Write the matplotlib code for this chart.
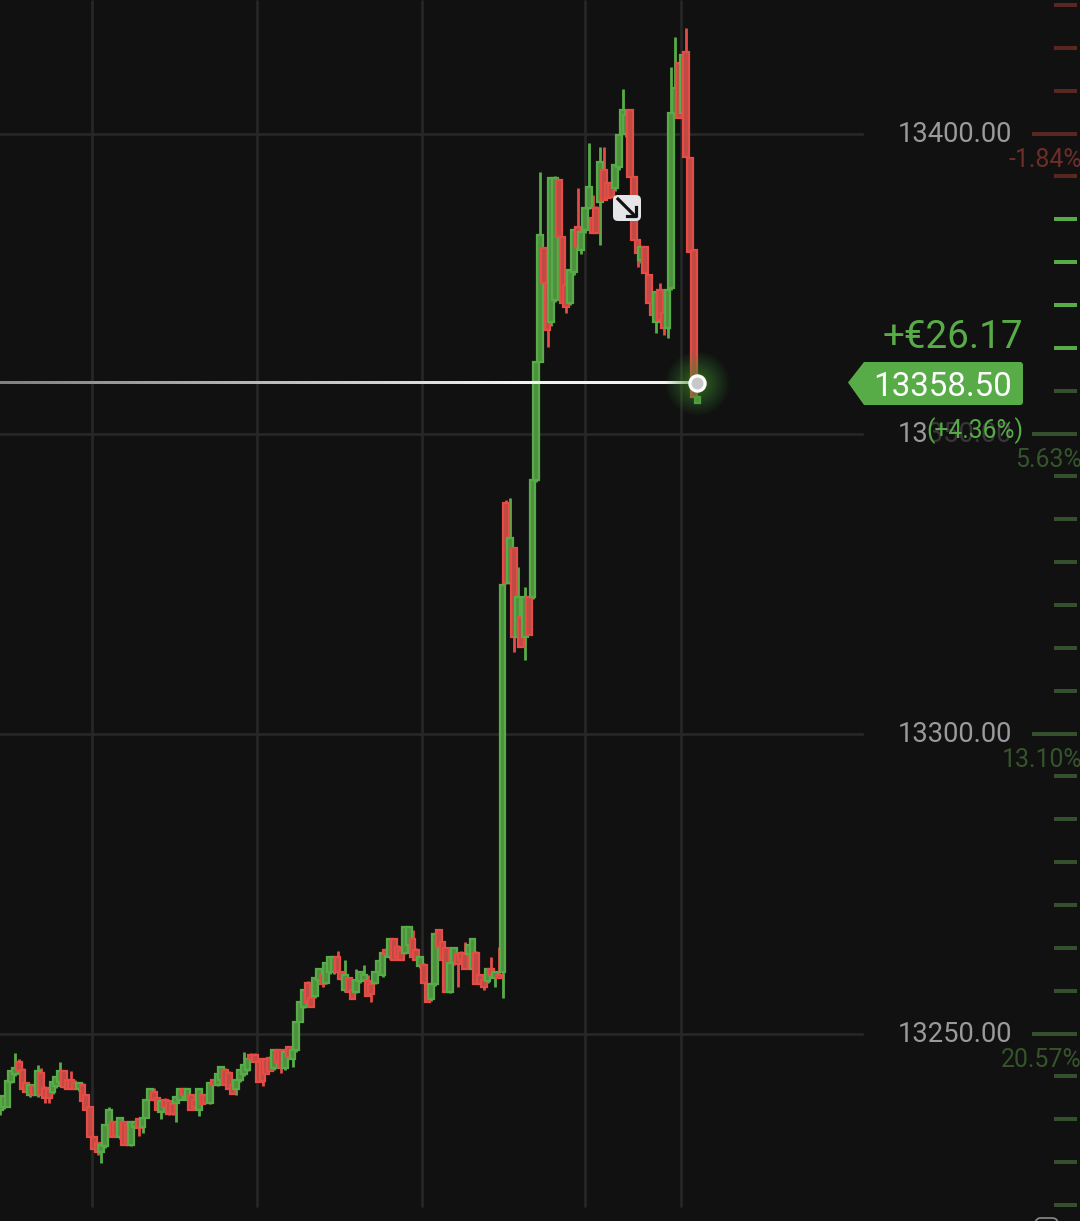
import numpy as np
import matplotlib
matplotlib.use("Agg")
import matplotlib.pyplot as plt
from matplotlib.patches import FancyBboxPatch, Polygon, Rectangle

BASE = 13200
# candle values, as price minus BASE, one row per ten candles
opens = [37.3,37.7,37.7,42,43.2,45.2,44,41.8,39.8,41.2,
 39.8,43.5,41,40.7,40.3,41.2,42,43.7,42.3,42.3,
 41.8,40.7,41.5,39.8,37.7,32.8,31.8,30.3,31.3,34.8,
 35.3,35.3,32.8,35.3,34.8,31.5,34.5,35.7,34.5,36,
 39,40.3,39.3,37,39,38.7,38.2,38.5,39,40.7,
 39,39.8,39,37.3,39.8,39.8,38.5,42.3,41.5,42.3,
 44,43.5,41.5,40.7,42.3,43.2,44,46.5,46.5,45.3,
 45.7,45.7,46,44.3,47.3,47.3,44.3,47.7,45.7,47.3,
 52,54.5,58.5,56,56.2,59,59.8,58.5,60.3,60.3,
 62.8,60.2,57.3,59.3,57.3,57,58.7,59,58.7,58.2,
 58.5,60.2,59.8,64,62.8,65.7,64.5,64,63.5,64.8,
 65.7,64,61.2,61.5,58.2,55.7,58.2,67.3,65.3,64.3,
 57,61.8,63.2,63.5,63.2,63.2,60.7,63.5,59.8,59,
 58.7,60.7,59.3,59.8,60.3,138.4,125.1,130.9,116.1,119.4,
 116.1,122.75,122.75,142.25,161.9,180.9,175.1,168.6,172.25,192.25,
 182.75,174.75,171.75,176.9,184.4,180.6,183.9,187.6,185.9,187.6,
 188.6,193.9,191.75,191.75,190.9,194.4,200,200,203.9,192.75,
 182.25,178.9,181.1,176.4,171.75,168.6,173.9,170.1,167.6,174.25,
 203.4,211.75,203.4,213.6,195.9,180.6,155.1]
highs = [39.5,39.5,42,43.7,46.7,45.7,44.2,42,41.5,41.3,
 44.8,44.3,41.2,40.8,42,42.7,45.3,43.8,42.5,43.8,
 42.3,41.8,41.7,40,37.8,33,32,31.5,34.8,37.7,
 35.5,35.5,36,35.5,35,35.3,35.3,36,36.2,39,
 40.7,41,39.5,38.7,39.2,39,38.5,39.5,40.7,40.8,
 40.7,40,39.2,40.7,40,40,41.8,42.5,43.2,44.5,
 44.2,43.7,41.7,42.3,44,47,45.7,46.7,46.7,45.5,
 45.8,45.8,46.2,47.3,47.5,47.5,47,47.8,47.3,52,
 55.2,57.3,58.7,56.2,59.3,60.7,60,61.8,62.8,62.8,
 63.7,60.3,62.3,59.5,57.5,60.7,60.3,61.5,59.8,58.3,
 60.3,62,63.5,64.2,65.7,65.8,64.7,64.2,67.8,67.8,
 67.3,64.2,62.8,61.7,58.3,58.2,66.5,67.5,65.5,64.5,
 61.8,64.3,63.3,63.7,65.2,64.8,65.7,63.7,60,59.2,
 60.7,62.7,60.2,64.5,124.8,138.9,139.2,131,127.75,119.5,
 124.4,123,142.25,161.9,193.6,181,175.1,192.6,192.9,192.5,
 183,175,177.25,183.9,190.9,183.6,187.6,198.4,189.75,188,
 197.75,197.75,192,192,194.75,199.75,207.4,203.1,204,192.75,
 182.25,181.1,181.25,176.5,171.75,173.6,175.1,170.25,173.9,211.1,
 216.1,211.9,213.1,217.6,196,180.6,156.1]
lows = [36.5,37.5,37.7,41.8,43,43.7,40.7,40.3,39.5,39.7,
 39.5,39.8,38.5,38.5,40,41,41.8,41,40.7,40.7,
 40.7,40.5,38.7,37.3,32.8,30.7,29.7,28.5,31,34.5,
 32.7,32.7,32.5,31.5,31.5,31.3,34.3,33,33.5,36,
 39,39,37.3,35.8,37.7,36.5,36.5,35.3,39,39.8,
 38.8,37.3,37.7,36.2,38.2,38.5,38.3,41.5,41.3,42,
 41.5,40.7,40,39.8,42,43,43.8,45.7,45.3,42,
 41.2,43.2,43.7,44,45.3,43.5,44,46,44.5,47,
 52,54.3,55.3,54.5,56,58.8,57.7,58.3,60,60,
 60.3,59,57,57,55.7,56.8,58.5,58.8,56.2,55.3,
 58.3,60,59.5,63.2,62.5,62.3,62.8,62.3,63.3,64.5,
 62.7,62.3,61,58.5,55.2,55.5,58,64.5,62.3,57,
 56.8,61.5,57.8,62.3,60.7,63,60.5,58.2,58.2,57.3,
 58.5,59.8,57.7,59.3,56,125,125,113.6,116,114.4,
 112.25,116.4,122.5,142,161.9,175.1,164.4,168,172,182.75,
 171.75,170.1,171.5,176.5,181.1,180,183.5,187.5,183.4,183.4,
 181.4,188.9,189.25,189.25,190.5,194,200,199.5,192.75,182.25,
 177.75,178.5,176.75,171.75,169.75,166.75,168.9,166.4,165.9,174,
 203,202.6,200.6,196.1,180.25,156.1,155.1]
closes = [39.5,39.5,42,43.7,44.3,43.7,40.7,40.3,41.5,39.7,
 43.7,39.8,39.3,39.3,42,42.7,43.7,41,40.7,40.7,
 40.7,41.8,38.7,37.3,32.8,30.7,30.2,31.5,34.8,37.3,
 32.7,33,36,31.5,31.5,35.3,35.3,34.3,36,39,
 40.7,39,37.3,38.7,37.7,36.5,36.5,39.5,40.7,39.8,
 40.7,37.3,37.7,40.7,38.2,38.5,41.8,41.5,43.2,44.5,
 41.5,40.7,40,42.3,44,44.8,45.7,45.7,45.3,42,
 42,43.2,43.7,47.3,45.3,44.3,47,46,47.3,52,
 55.2,57.3,55.3,54.5,59.3,60.7,58.2,61.8,62.8,62.8,
 60.3,59,59.8,57,55.7,59,60.3,59.8,56.2,56.5,
 60.3,62,63.5,63.2,65.7,62.3,62.8,62.3,67.8,67.8,
 62.7,62.3,62.8,58.5,55.2,58.2,66.5,64.5,62.3,57,
 61.8,64.3,61.5,62.3,60.7,64.8,65.7,58.2,58.2,57.8,
 60.7,59.8,60.2,59.3,124.8,125.1,132.6,116.1,122.75,114.4,
 122.75,116.4,142.25,161.9,183.1,175.1,167.25,192.6,192.6,182.75,
 171.75,171.1,177.25,183.9,181.1,183.6,187.6,191.1,183.4,183.4,
 195.25,188.9,189.25,189.5,194.75,199.75,203.9,203.1,192.75,182.25,
 180.1,181.1,176.75,171.75,169.75,173.6,168.9,167.6,173.9,203.4,
 207.6,202.6,213.1,196.1,180.25,156.1,156.1]

price_levels = [13400, 13350, 13300, 13250]
price_labels = ["13400.00", "13350.00", "13300.00", "13250.00"]
pct_labels = ["-1.84%", "5.63%", "13.10%", "20.57%"]
time_grid = [24.5, 68.5, 112.5, 156.0, 181.6]
last_price = 13358.50
last_label = "13358.50"
pnl_label = "+€26.17"
pnl_pct_label = "(+4.36%)"

W, H = 1080, 1221
BG = "#111111"
GRID = "#272727"
GREEN = "#58ac48"
GREEN_FILL = "#4f8f40"
RED = "#e44c46"
RED_FILL = "#c04a44"
DIM_GREEN = "#34502c"
DIM_RED = "#5a2622"
LABEL = "#9a9a9a"

plt.rcParams["font.family"] = ["Roboto", "DejaVu Sans"]
fig = plt.figure(figsize=(W / 100, H / 100), dpi=100, facecolor=BG)
ax = fig.add_axes([0, 0, 1, 1], facecolor=BG)

PX_PER_CANDLE = 3.75
PX_PER_PRICE = 6.0
ax.set_xlim(0, W / PX_PER_CANDLE)
top = 13400 + 133.5 / PX_PER_PRICE
ax.set_ylim(top - H / PX_PER_PRICE, top)
ax.axis("off")

o = BASE + np.array(opens)
h = BASE + np.array(highs)
l = BASE + np.array(lows)
c = BASE + np.array(closes)
idx = np.arange(len(o))
up = c >= o

for p in price_levels:
    ax.plot([0, 862 / PX_PER_CANDLE], [p, p], color=GRID, lw=1.9, zorder=1)
grid_bottom = top - 1207 / PX_PER_PRICE
ax.vlines(time_grid, grid_bottom, top, color=GRID, lw=1.9, zorder=1)

ax.vlines(idx, l, h, colors=[GREEN if u else RED for u in up], lw=2.0, zorder=3)
ax.bar(idx, c - o, bottom=o, width=1.5,
       color=[GREEN_FILL if u else RED_FILL for u in up],
       edgecolor=[GREEN if u else RED for u in up], linewidth=1.6, zorder=4)

# overlay in pixel coordinates for the app's decorations
ov = fig.add_axes([0, 0, 1, 1], facecolor="none")
ov.set_xlim(0, W)
ov.set_ylim(H, 0)
ov.axis("off")

def py(p):
    return 133.5 + (13400 - p) * PX_PER_PRICE

# last price line fading to the left
ly = py(last_price)
shade = np.clip(0.5 + 0.45 * np.arange(700) / 520, 0, 0.95)
ov.imshow(shade[None, :], cmap="gray", vmin=0, vmax=1, aspect="auto",
          extent=(0, 697, ly + 1.5, ly - 1.5), zorder=5, interpolation="bilinear")
ov.set_xlim(0, W)
ov.set_ylim(H, 0)

# glow and marker
for r in 8 + 24 * np.linspace(1, 0, 30) ** 1.6:
    ov.scatter([697], [ly], s=(2 * r * 0.72) ** 2, color="#4f9a3a", alpha=0.03, linewidths=0, zorder=6)
ov.scatter([697], [ly], s=120, facecolor="#c8c8ca", edgecolor="white", linewidths=2.3, zorder=7)

# ruler on the right
for k in range(-3, 26):
    ty = 133.5 + k * 300 / 7
    major = k % 7 == 0
    if ty < 190:
        col = DIM_RED
    elif ty < 360:
        col = GREEN
    else:
        col = DIM_GREEN
    x0 = 1032 if major else 1054
    ov.plot([x0, 1077], [ty, ty], color=col, lw=2.9, solid_capstyle="butt", zorder=2)

for p, lab, pct in zip(price_levels, price_labels, pct_labels):
    y = py(p)
    ov.text(1012, y - 1.5, lab, color=LABEL, fontsize=19.7, ha="right", va="center_baseline", zorder=3)
    col = "#6e2d28" if pct.startswith("-") else "#35542c"
    ov.text(1082, y + 24, pct, color=col, fontsize=17.9, ha="right", va="center_baseline", zorder=3)

# dimming behind the return text
ov.add_patch(Rectangle((927, 416), 98, 28, facecolor=BG, alpha=0.72, lw=0, zorder=4))
ov.text(1023, 333, pnl_label, color=GREEN, fontsize=27.8, ha="right", va="center_baseline", zorder=8)
ov.text(1023, 428, pnl_pct_label, color=GREEN, fontsize=17.7, ha="right", va="center_baseline", zorder=8)

# last price tag
ov.add_patch(FancyBboxPatch((866, 362), 157, 43, boxstyle="round,pad=0,rounding_size=3",
                            facecolor=GREEN, edgecolor="none", zorder=8))
ov.add_patch(Polygon([(848, ly), (864, 362), (870, 362), (870, 405), (864, 405)],
                     closed=True, facecolor=GREEN, edgecolor="none", zorder=8))
ov.text(1012, ly + 0.5, last_label, color="white", fontsize=23.9, ha="right", va="center_baseline", zorder=9)

# cursor badge
ov.add_patch(FancyBboxPatch((613, 195), 28, 26, boxstyle="round,pad=0,rounding_size=5",
                            facecolor="#e6e6e9", edgecolor="none", zorder=9))
ov.plot([618, 634], [199, 215], color="#111111", lw=2.3, zorder=10)
ov.plot([627, 635.5, 635.5], [215.5, 215.5, 207], color="#111111", lw=2.3, zorder=10)

# clipped control at the bottom edge
ov.add_patch(FancyBboxPatch((1034, 1218), 24, 20, boxstyle="round,pad=0,rounding_size=6",
                            facecolor="none", edgecolor="#8a8a8a", lw=1.2, zorder=3))

fig.savefig("out.png", dpi=100, facecolor=BG)
